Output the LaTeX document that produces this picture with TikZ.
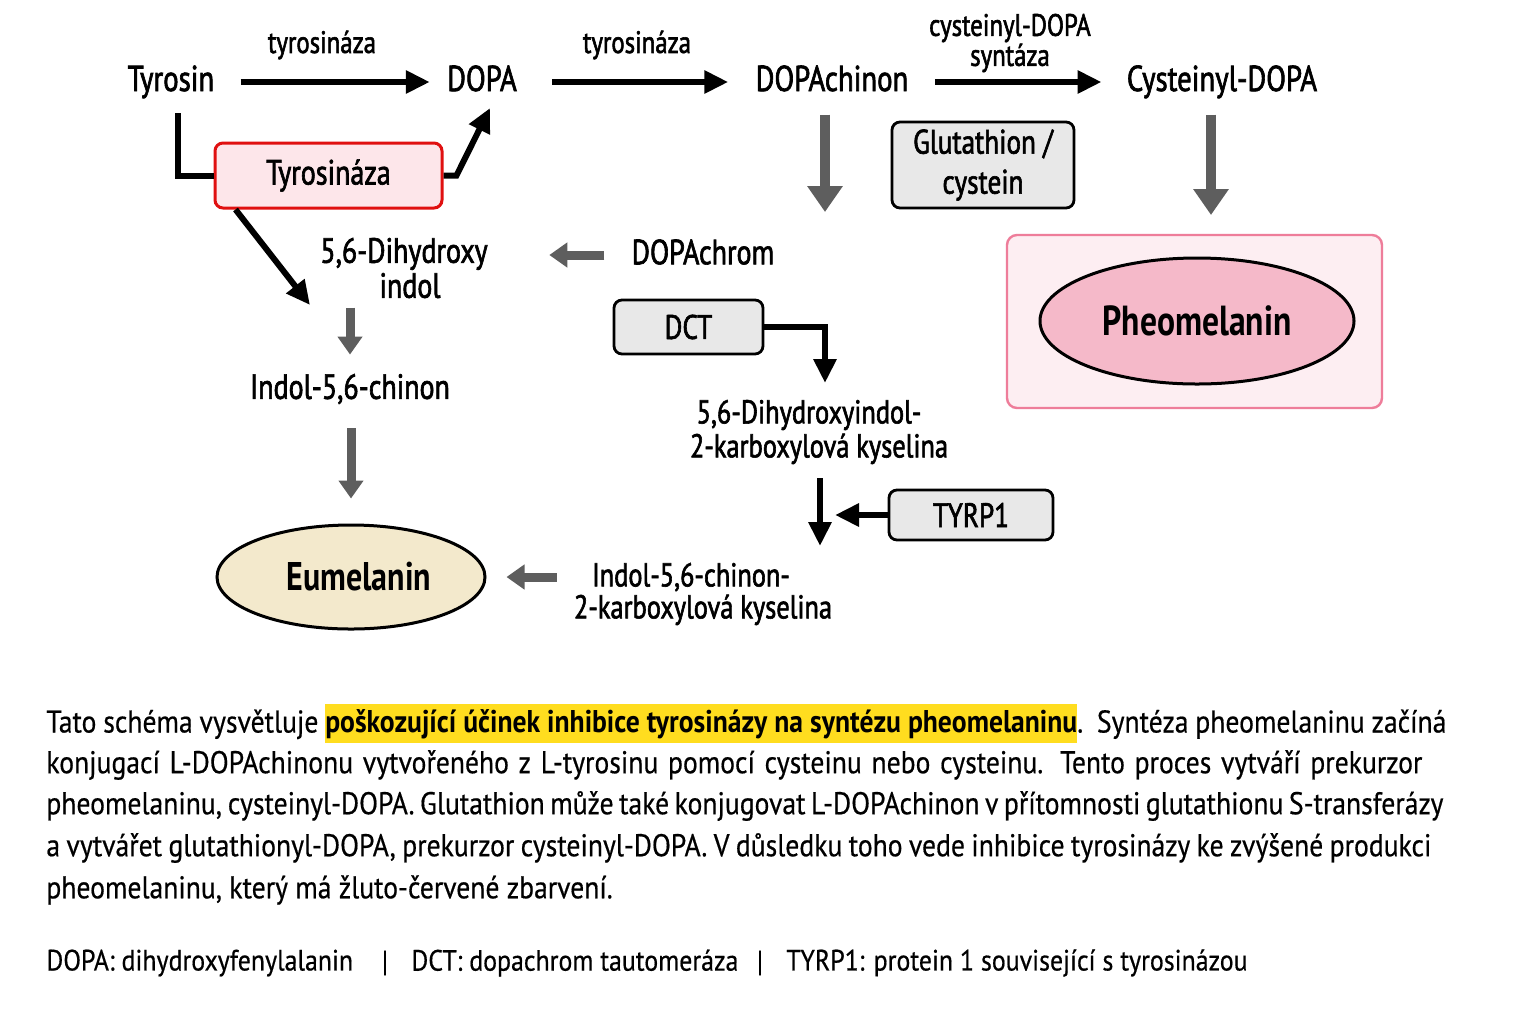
\documentclass[tikz,border=0pt]{standalone}
\usepackage{fontspec}
\setmainfont{PT Sans}[FakeStretch=0.88]
\newfontfamily\medfont{PT Sans}[FakeStretch=0.8, FakeBold=1.8]
\newfontfamily\parafont{PT Sans}[FakeStretch=0.88, FakeBold=0.5]
\newfontfamily\boldfont{PT Sans}[FakeStretch=0.8]
\newfontfamily\hlfont{PT Sans}[FakeStretch=0.88]
\usetikzlibrary{arrows.meta,calc,shapes.geometric}
\definecolor{gryarrow}{HTML}{5E5E5E}
\definecolor{tyrred}{HTML}{E01010}
\definecolor{tyrfill}{HTML}{FDE6EA}
\definecolor{boxgrey}{HTML}{E8E8E8}
\definecolor{pheoborder}{HTML}{EE7D9A}
\definecolor{pheobg}{HTML}{FDEEF2}
\definecolor{pheofill}{HTML}{F5B9C9}
\definecolor{eufill}{HTML}{F3E9CC}
\definecolor{hlyellow}{HTML}{FFDD1F}
\tikzset{
  lbl/.style={inner sep=0pt, font=\medfont\fontsize{17.5}{17.5}\selectfont, align=center},
  toplbl/.style={inner sep=0pt, font=\medfont\fontsize{18}{18}\selectfont, text height=12.6pt, text depth=3.6pt},
  small/.style={inner sep=0pt, font=\medfont\fontsize{15.5}{15}\selectfont, align=center},
  para/.style={inner sep=0pt, anchor=west, font=\parafont\fontsize{15.7}{18}\selectfont},
  foot/.style={inner sep=0pt, anchor=west, font=\parafont\fontsize{14.7}{18}\selectfont},
  greybox/.style={draw=black, line width=1.4pt, rounded corners=4pt, fill=boxgrey, inner sep=0pt, font=\medfont\fontsize{17}{18}\selectfont, align=center},
  blk/.style={line width=3pt, -{Triangle[length=12pt,width=11pt]}},
  blkline/.style={line width=3pt},
  gry/.style={draw=gryarrow, line width=4.5pt, -{Triangle[length=9pt,width=12pt]}},
  gryL/.style={draw=gryarrow, line width=5pt, -{Triangle[length=13pt,width=17pt]}},
}
\begin{document}
\begin{tikzpicture}[x=0.5pt,y=-0.5pt]
\useasboundingbox[fill=white] (0,0) rectangle (1536,1024);

% top row
\node[toplbl] (tyr) at (171,82) {Tyrosin};
\node[toplbl] (dopa) at (482,82) {DOPA};
\node[toplbl] (dq) at (832,82) {DOPAchinon};
\node[toplbl] (cys) at (1222,82) {Cysteinyl-DOPA};
\node[small] (e1) at (322,45) {tyrosináza};
\node[small] (e2) at (637,45) {tyrosináza};
\node[small] (e3) at (1010,43) {cysteinyl-DOPA\\syntáza};

\draw[blk, shorten <=13pt, shorten >=8.5pt] (tyr) -- (dopa);
\draw[blk, shorten <=17.5pt, shorten >=13.5pt] (dopa) -- (dq);
\draw[blk, shorten <=13pt, shorten >=12.5pt] (dq) -- (cys);

% Tyrosinaza box
\node[draw=tyrred, line width=1.5pt, fill=tyrfill, rounded corners=4pt, minimum width=113.5pt, minimum height=32.5pt, inner sep=0pt, font=\medfont\fontsize{17.5}{18}\selectfont] (tbox) at (328.5,175.5) {Tyrosináza};
\coordinate (tyrdown) at (178,113);
\draw[blkline] (tyrdown) |- (tbox.west);
\coordinate (dopatip) at (490,108);
\draw[blk] (tbox.east) -- ++(13,0) -- (dopatip);
\coordinate (dhtip) at (310,305);
\draw[blk] ($(tbox.south west)+(22,0)$) -- (dhtip);

% middle
\node[greybox, minimum width=91pt, minimum height=43pt] (glu) at (983,165) {Glutathion /\\[2pt]cystein};
\coordinate (dqdown) at (825,212);
\draw[gryL] (dq.south -| dqdown) ++(0,16) -- (dqdown);
\coordinate (cysdown) at (1211,215);
\draw[gryL] (cys.south -| cysdown) ++(0,16) -- (cysdown);

\node[draw=pheoborder, line width=1.2pt, fill=pheobg, rounded corners=5pt, minimum width=187.5pt, minimum height=86.5pt, inner sep=0pt] (pbox) at (1194.5,321.5) {};
\node[draw=black, line width=1.5pt, fill=pheofill, ellipse, minimum width=157pt, minimum height=63pt, inner sep=0pt, font=\boldfont\bfseries\fontsize{21}{22}\selectfont] (pheo) at (1197,321) {Pheomelanin};

\node[lbl] (dchrom) at (703,252) {DOPAchrom};
\node[lbl] (dhi) at (404,268) {5,6-Dihydroxy\\\hspace*{6pt}indol};
\draw[gry] ($(dchrom.west)+(-27,3)$) -- ++(-55,0);

\node[lbl] (iq) at (350,389) {Indol-5,6-chinon};
\draw[gry, shorten <=4.5pt, shorten >=9.5pt] (iq.north |- dhi.south) -- (iq.north);

\node[draw=black, line width=1.5pt, fill=eufill, ellipse, minimum width=134pt, minimum height=52pt, inner sep=0pt, font=\boldfont\bfseries\fontsize{20}{22}\selectfont] (eu) at (351,577) {\hspace*{8pt}Eumelanin};
\draw[gry, shorten <=12pt, shorten >=12.5pt] (iq.south -| eu.north) -- (eu.north);

\node[greybox, minimum width=74.5pt, minimum height=27pt] (dct) at (688.5,327) {DCT};
\node[lbl, font=\medfont\fontsize{16.5}{17}\selectfont] (dhica) at (819,432) {5,6-Dihydroxyindol-\hspace*{10pt}\\2-karboxylová kyselina};
\coordinate (dhicatip) at (825,383);
\draw[blk] (dct.east) -| (dhicatip);

\node[lbl, font=\medfont\fontsize{16.5}{16}\selectfont] (icaq) at (703,594) {\hspace*{-12pt}Indol-5,6-chinon-\\2-karboxylová kyselina};
\coordinate (dh1) at (820,478);
\coordinate (dh2) at (820,546);
\draw[blk] (dh1) -- (dh2);

\node[greybox, minimum width=82pt, minimum height=25pt] (tyrp) at (971,515) {TYRP1};
\coordinate (tyrptip) at (835,515);
\draw[blk] (tyrp.west) -- (tyrptip);

\draw[gry, shorten <=8.5pt, shorten >=10pt] (icaq.west |- eu.east) -- (eu.east);

% paragraph
\setlength{\fboxsep}{0pt}
\node[para] (l1) at (46,723) {\makebox[700pt][s]{Tato schéma vysvětluje \colorbox{hlyellow}{\rule[-5pt]{0pt}{19.5pt}\hlfont\bfseries poškozující účinek inhibice tyrosinázy na syntézu pheomelaninu}.\ \ Syntéza pheomelaninu začíná}};
\node[para] (l2) at (46,765) {\makebox[688pt][s]{konjugací L-DOPAchinonu vytvořeného z L-tyrosinu pomocí cysteinu nebo cysteinu. Tento proces vytváří prekurzor}};
\node[para] (l3) at (46,806) {\makebox[698.5pt][s]{pheomelaninu, cysteinyl-DOPA. Glutathion může také konjugovat L-DOPAchinon v přítomnosti glutathionu S-transferázy}};
\node[para] (l4) at (46,848) {\makebox[692.5pt][s]{a vytvářet glutathionyl-DOPA, prekurzor cysteinyl-DOPA. V důsledku toho vede inhibice tyrosinázy ke zvýšené produkci}};
\node[para] (l5) at (46,890) {pheomelaninu, který má žluto-červené zbarvení.};

\node[foot] (f1) at (46,963) {DOPA: dihydroxyfenylalanin};
\node[foot, anchor=center] (f2) at (385,963) {|};
\node[foot] (f3) at (411,963) {DCT: dopachrom tautomeráza};
\node[foot, anchor=center] (f4) at (760,963) {|};
\node[foot] (f5) at (786,963) {TYRP1: protein 1 související s tyrosinázou};
\end{tikzpicture}
\end{document}
